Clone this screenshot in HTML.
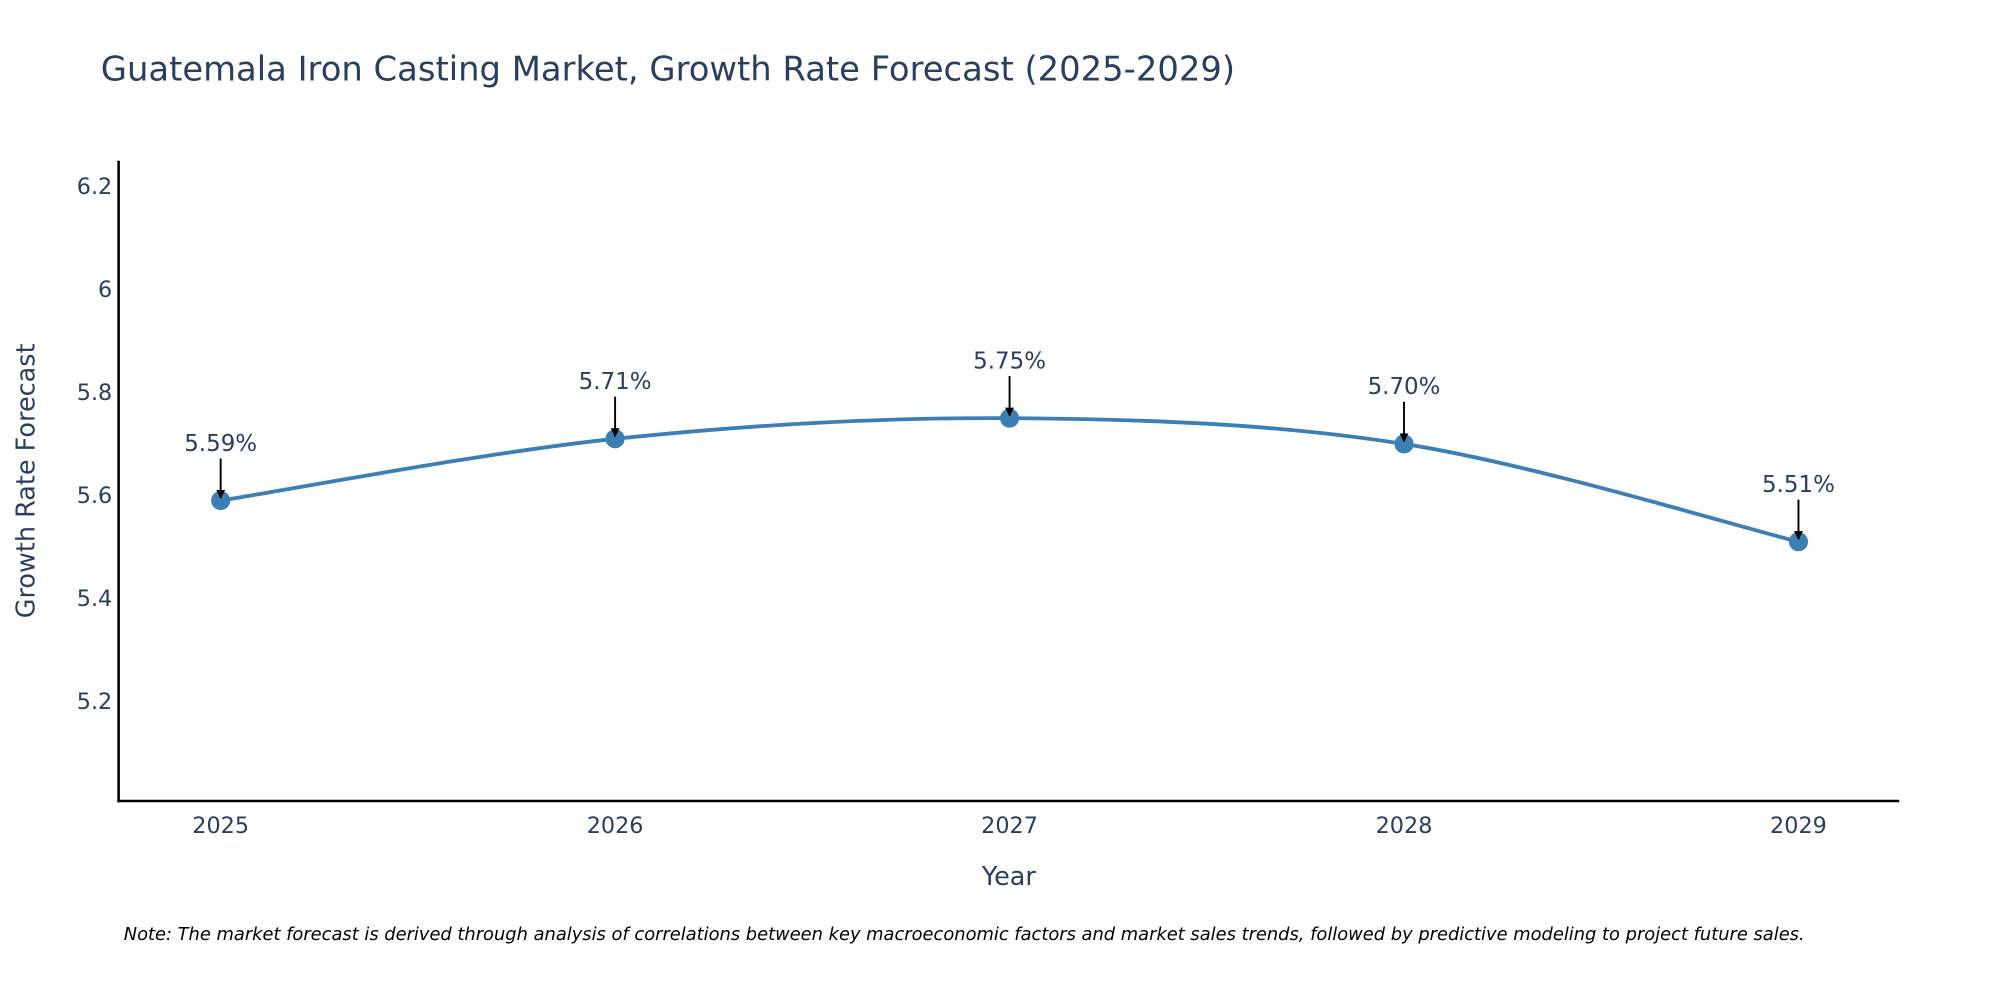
<!DOCTYPE html>
<html><head><meta charset="utf-8"><style>
html,body{margin:0;padding:0;background:#fff;}
svg{display:block;font-family:"DejaVu Sans","Liberation Sans",sans-serif;}
</style></head><body>
<svg id="chart" width="2000" height="1000" viewBox="0 0 1568 784" xmlns="http://www.w3.org/2000/svg">
<defs><marker id="ah" viewBox="0 0 10 10" refX="9" refY="5" markerWidth="7" markerHeight="7" markerUnits="userSpaceOnUse" orient="auto"><path d="M0,0 L10,5 L0,10 z" fill="#000"/></marker></defs>
<text x="79" y="63" font-size="26.5" fill="#2a3f5f">Guatemala Iron Casting Market, Growth Rate Forecast (2025-2029)</text>
<g id="yticks"></g>
<g id="xticks"></g>
<line x1="93" y1="126" x2="93" y2="629" stroke="#000" stroke-width="2"/>
<line x1="92" y1="628" x2="1489" y2="628" stroke="#000" stroke-width="2"/>
<text transform="translate(27,377) rotate(-90)" text-anchor="middle" font-size="20" fill="#2a3f5f">Growth Rate Forecast</text>
<text x="791" y="694" text-anchor="middle" font-size="20" fill="#2a3f5f">Year</text>
<g id="series"></g>
<g id="annos"></g>
<text x="97" y="737" font-size="14" font-style="italic" fill="#000">Note: The market forecast is derived through analysis of correlations between key macroeconomic factors and market sales trends, followed by predictive modeling to project future sales.</text>
</svg>
<script>
const years = [2025, 2026, 2027, 2028, 2029];
const values = [5.59, 5.71, 5.75, 5.70, 5.51];
const labels = ["5.59%", "5.71%", "5.75%", "5.70%", "5.51%"];
const yTicks = [5.2, 5.4, 5.6, 5.8, 6, 6.2];
const yTickLabels = ["5.2", "5.4", "5.6", "5.8", "6", "6.2"];

const NS = "http://www.w3.org/2000/svg";
function X(yr){ return 173 + (yr - 2025) * 309.25; }
function Y(v){ return 227 - (v - 6) * 403.5; }
function mk(tag, attrs, parent){ const e = document.createElementNS(NS, tag); for (const k in attrs) e.setAttribute(k, attrs[k]); parent.appendChild(e); return e; }

const yt = document.getElementById('yticks');
yTicks.forEach((v, i) => {
  const t = mk('text', {x: 88, y: Y(v) + 6, 'text-anchor': 'end', 'font-size': 17.5, fill: '#2a3f5f'}, yt);
  
  
  t.textContent = yTickLabels[i];
});
const xt = document.getElementById('xticks');
years.forEach(yr => {
  const t = mk('text', {x: X(yr), y: 653, 'text-anchor': 'middle', 'font-size': 17.5, fill: '#2a3f5f'}, xt);
  
  
  t.textContent = String(yr);
});

const pts = years.map((yr, i) => [X(yr), Y(values[i])]);
let d = `M${pts[0][0]},${pts[0][1]}`;
const s = 1/6;
for (let i = 0; i < pts.length - 1; i++) {
  const p0 = pts[i-1] || pts[i], p1 = pts[i], p2 = pts[i+1], p3 = pts[i+2] || pts[i+1];
  const c1 = [p1[0] + (p2[0]-p0[0])*s, p1[1] + (p2[1]-p0[1])*s];
  const c2 = [p2[0] - (p3[0]-p1[0])*s, p2[1] - (p3[1]-p1[1])*s];
  d += ` C${c1[0]},${c1[1]} ${c2[0]},${c2[1]} ${p2[0]},${p2[1]}`;
}
const ser = document.getElementById('series');
const line = mk('path', {d: d, fill: 'none', stroke: '#3d7fb4', 'stroke-width': 3}, ser);


pts.forEach(p => {
  const c = mk('circle', {cx: p[0], cy: p[1], r: 7.5, fill: '#3d7fb4'}, ser);
  
  
});
const an = document.getElementById('annos');
pts.forEach((p, i) => {
  const a = mk('line', {x1: p[0], y1: p[1] - 33, x2: p[0], y2: p[1] - 2, stroke: '#000', 'stroke-width': 1.5, 'marker-end': 'url(#ah)'}, an);
  
  
  const t = mk('text', {x: p[0], y: p[1] - 39, 'text-anchor': 'middle', 'font-size': 18, fill: '#2a3f5f'}, an);
  
  
  t.textContent = labels[i];
});
</script>
</body></html>
